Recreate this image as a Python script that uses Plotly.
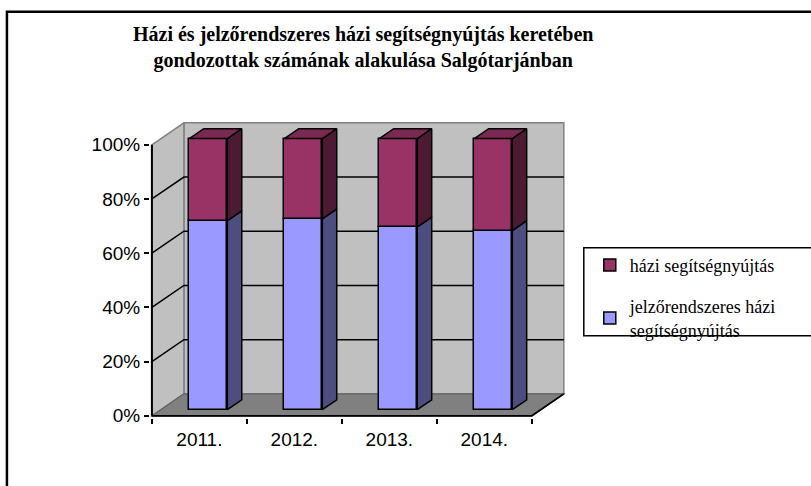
import plotly.graph_objects as go

# ---- data (percent shares) ----
years = ['2011.', '2012.', '2013.', '2014.']
jelzo = [69.7, 70.4, 67.4, 66.1]      # jelzőrendszeres házi segítségnyújtás
hazi = [30.3, 29.6, 32.6, 33.9]       # házi segítségnyújtás
y_ticks = [0, 20, 40, 60, 80, 100]
y_labels = ['0%', '20%', '40%', '60%', '80%', '100%']

name_hazi = 'házi segítségnyújtás'
name_jelzo = 'jelzőrendszeres házi<br>segítségnyújtás'
title_text = ('Házi és jelzőrendszeres házi segítségnyújtás keretében<br>'
              'gondozottak számának alakulása Salgótarjánban')

# ---- 3D geometry (in data units) ----
DX, DY = 0.337, 8.1          # depth offset of back wall
F1, F2 = 0.28, 0.73          # bar front / back depth fractions
BW = 0.40                    # bar width
X0, X1 = -0.5, 3.5
XR = [-0.52, 3.86]
YR = [-0.8, 108.4]

# plot area pixels
W_FIG, H_FIG = 811, 486
PX_X, PX_Y = 95.0, 2.71
L = 152 - 0.02 * PX_X
Wd = (XR[1] - XR[0]) * PX_X
B = 416 + 0.8 * PX_Y
Hd = (YR[1] - YR[0]) * PX_Y
T = B - Hd
R = W_FIG - L - Wd


def px(xp):
    return (xp - L) / Wd


def py(yp):
    return (B - yp) / Hd


def path(xs, ys):
    return 'M ' + ' L '.join(f'{a},{b}' for a, b in zip(xs, ys)) + ' Z'


GRAY_WALL = '#C0C0C0'
GRAY_FLOOR = '#808080'
EDGE = '#808080'

shapes = []
top = y_ticks[-1]
# back wall, left wall, floor
shapes.append(dict(type='path', xref='x', yref='y', layer='below',
                   path=path([X0 + DX, X1 + DX, X1 + DX, X0 + DX], [DY, DY, top + DY, top + DY]),
                   fillcolor=GRAY_WALL, line=dict(color=EDGE, width=1.5)))
shapes.append(dict(type='path', xref='x', yref='y', layer='below',
                   path=path([X0, X0, X0 + DX, X0 + DX], [0, top, top + DY, DY]),
                   fillcolor=GRAY_WALL, line=dict(color=EDGE, width=1.5)))
shapes.append(dict(type='path', xref='x', yref='y', layer='below',
                   path=path([X0, X1, X1 + DX, X0 + DX], [0, 0, DY, DY]),
                   fillcolor=GRAY_FLOOR, line=dict(color='#606060', width=1.2)))
# gridlines on left and back wall
for v in y_ticks[1:-1]:
    shapes.append(dict(type='path', xref='x', yref='y', layer='below',
                       path=f'M {X0},{v} L {X0 + DX},{v + DY} L {X1 + DX},{v + DY}',
                       line=dict(color='black', width=1.5)))
# floor front edge + right diagonal, y axis line
shapes.append(dict(type='path', xref='x', yref='y', layer='below',
                   path=f'M {X0},0 L {X1},0 L {X1 + DX},{DY}',
                   line=dict(color='black', width=1.8)))
shapes.append(dict(type='line', xref='x', yref='y', layer='below',
                   x0=X0, x1=X0, y0=0, y1=top, line=dict(color='black', width=2)))
# outer chart frame (cut by the image edge at right and bottom)
shapes.append(dict(type='rect', xref='paper', yref='paper', x0=px(7), x1=px(830),
                   y0=py(500), y1=py(12), line=dict(color='black', width=2.5)))
# legend box
shapes.append(dict(type='rect', xref='paper', yref='paper', x0=px(584), x1=px(812),
                   y0=py(336), y1=py(248), line=dict(color='black', width=1.5)))

fig = go.Figure()

# ---- bars (front faces) ----
bx = [i + F1 * DX for i in range(len(years))]
base0 = F1 * DY
sdx, sdy = (F2 - F1) * DX, (F2 - F1) * DY

fig.add_trace(go.Bar(x=bx, y=jelzo, base=[base0] * len(years), width=BW,
                     marker=dict(color='#9999FF', line=dict(color='black', width=1.5)),
                     name=name_jelzo, legendrank=2, legendgroup='b', hoverinfo='skip'))
fig.add_trace(go.Bar(x=bx, y=hazi, base=[base0 + v for v in jelzo], width=BW,
                     marker=dict(color='#993366', line=dict(color='black', width=1.5)),
                     name=name_hazi, legendrank=1, legendgroup='a', hoverinfo='skip'))


def poly(xs, ys, fill):
    fig.add_trace(go.Scatter(x=xs, y=ys, mode='lines', fill='toself',
                             fillcolor=fill, line=dict(color='black', width=1.5),
                             hoverinfo='skip', showlegend=False))


# side and top faces
sx1, sy1, sx2, sy2, tx, ty = [], [], [], [], [], []
for i, c in enumerate(bx):
    xr = c + BW / 2
    xl = c - BW / 2
    y0 = base0
    y1 = base0 + jelzo[i]
    y2 = y1 + hazi[i]
    sx1 += [xr, xr + sdx, xr + sdx, xr, xr, None]
    sy1 += [y0, y0 + sdy, y1 + sdy, y1, y0, None]
    sx2 += [xr, xr + sdx, xr + sdx, xr, xr, None]
    sy2 += [y1, y1 + sdy, y2 + sdy, y2, y1, None]
    tx += [xl, xr, xr + sdx, xl + sdx, xl, None]
    ty += [y2, y2, y2 + sdy, y2 + sdy, y2, None]
poly(sx1, sy1, '#4D4D80')
poly(sx2, sy2, '#4D1A33')
poly(tx, ty, '#7A2952')

title_font = dict(family='Liberation Serif, Times New Roman, serif', size=20,
                  color='black', weight='bold')
annotations = [
    dict(text=title_text, xref='paper', yref='paper', x=px(363), y=py(48),
         xanchor='center', yanchor='middle', showarrow=False, font=title_font),
]

# ---- layout ----
fig.update_layout(
    width=W_FIG, height=H_FIG,
    margin=dict(l=L, r=R, t=T, b=H_FIG - B, autoexpand=False),
    paper_bgcolor='white', plot_bgcolor='rgba(0,0,0,0)',
    barmode='overlay', bargap=0,
    font=dict(family='Liberation Sans, Arial, sans-serif', color='black'),
    showlegend=True,
    legend=dict(x=px(590), y=py(247), xanchor='left', yanchor='top',
                font=dict(family='Liberation Serif, Times New Roman, serif', size=18,
                          color='black'),
                bgcolor='rgba(0,0,0,0)', borderwidth=0, tracegroupgap=15,
                itemwidth=30),
    xaxis=dict(range=XR, tickmode='array', tickvals=list(range(len(years))),
               ticktext=years, ticks='', showgrid=False, zeroline=False,
               showline=False, tickfont=dict(size=19), ticklabelstandoff=8,
               minor=dict(tickmode='linear', tick0=X0, dtick=1, ticks='outside',
                          ticklen=5, tickwidth=2, tickcolor='black', showgrid=False),
               fixedrange=True),
    yaxis=dict(range=YR, tickmode='array', tickvals=y_ticks, ticktext=y_labels,
               ticks='outside', ticklen=5, tickwidth=2, tickcolor='black',
               showgrid=False, zeroline=False, showline=False,
               tickfont=dict(size=19), fixedrange=True),
    shapes=shapes,
    annotations=annotations,
)

fig.write_html('out.html', config={'displayModeBar': False},
               post_script="document.body.style.margin='0';")
